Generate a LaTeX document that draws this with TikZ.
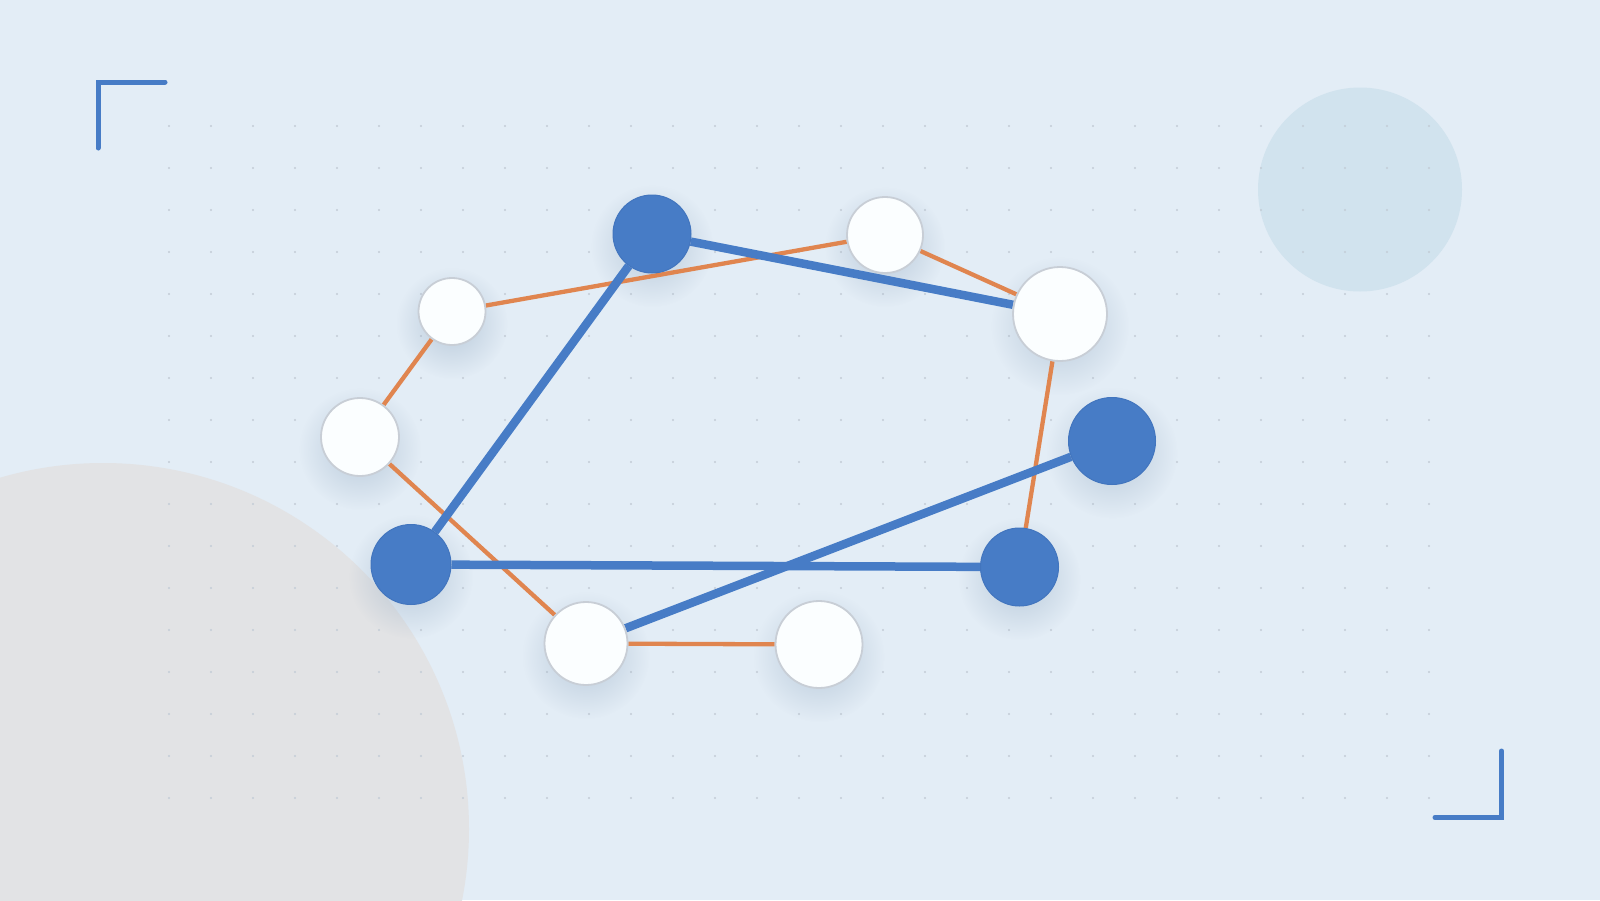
\documentclass[tikz,border=0pt]{standalone}
\usetikzlibrary{fadings}
\definecolor{bgc}{HTML}{E3EDF6}
\definecolor{greyc}{HTML}{E2E3E5}
\definecolor{lbc}{HTML}{D1E3EE}
\definecolor{dotc}{HTML}{C3CCD6}
\definecolor{bluec}{HTML}{477CC6}
\definecolor{blueedge}{HTML}{4275BE}
\definecolor{orangec}{HTML}{E0854F}
\definecolor{whitec}{HTML}{FBFEFF}
\definecolor{wborder}{HTML}{C8CED6}
\definecolor{shadowc}{HTML}{8EA6BE}
\tikzfading[name=softshadow, inner color=transparent!0, outer color=transparent!100]
\pgfdeclarelayer{bglayer}
\pgfdeclarelayer{shadlayer}
\pgfdeclarelayer{edgelayer}
\pgfsetlayers{bglayer,shadlayer,edgelayer,main}
\tikzset{
  wnode/.style={circle, inner sep=0pt, fill=whitec, draw=wborder, line width=1.8pt},
  bnode/.style={circle, inner sep=0pt, fill=bluec, draw=blueedge, line width=1pt},
  oedge/.style={draw=orangec, line width=4.3pt},
  bedge/.style={draw=bluec, line width=8.5pt},
  bracket/.style={draw=bluec, line width=5pt, line cap=round, line join=miter},
  softsh/.style={fill=shadowc, fill opacity=0.5, path fading=softshadow},
}
\begin{document}
\begin{tikzpicture}[x=1pt,y=-1pt]
\useasboundingbox (0,0) rectangle (1600,900);
\begin{pgfonlayer}{bglayer}
\begin{scope}
\clip (0,0) rectangle (1600,900);
\fill[bgc] (0,0) rectangle (1600,900);
\fill[greyc] (103,829) circle[radius=366];
\fill[lbc] (1360,189.5) circle[radius=102];
\foreach \i in {0,...,30}{
  \foreach \j in {0,...,16}{
    \fill[dotc] (169+42*\i,126+42*\j) circle[radius=1.1];
  }
}
\end{scope}
\draw[bracket] (98,148) -- (98,82) -- (165,82);
\draw[bracket] (1435,817.5) -- (1501.5,817.5) -- (1501.5,751);
\end{pgfonlayer}

% nodes
\node[bnode, minimum size=78pt] (bT) at (652,234) {};
\node[wnode, minimum size=76pt] (wT) at (885,235) {};
\node[wnode, minimum size=67pt] (wUL) at (452,311.5) {};
\node[wnode, minimum size=94pt] (wR) at (1060,314) {};
\node[wnode, minimum size=78pt] (wL) at (360,437) {};
\node[bnode, minimum size=87pt] (bR) at (1112,441) {};
\node[bnode, minimum size=80pt] (bL) at (411,564.5) {};
\node[bnode, minimum size=78pt] (bRB) at (1019.5,567) {};
\node[wnode, minimum size=83pt] (wBL) at (586,643.5) {};
\node[wnode, minimum size=87pt] (wBR) at (819,644.5) {};

\begin{pgfonlayer}{shadlayer}
\foreach \n/\r in {bT/39,wT/38,wUL/33.5,wR/47,wL/39,bR/43.5,bL/40,bRB/39,wBL/41.5,wBR/43.5}{
  \fill[softsh] ([yshift=-12pt]\n.center) circle[radius=\r+22];
}
\end{pgfonlayer}

\begin{pgfonlayer}{edgelayer}
\draw[oedge] (wUL) -- (wT);
\draw[oedge] (wT) -- (wR);
\draw[oedge] (wR) -- (bRB);
\draw[oedge] (wUL) -- (wL);
\draw[oedge] (wL) -- (wBL);
\draw[oedge] (wBL) -- (wBR);
\draw[bedge] (bT) -- (wR);
\draw[bedge] (bT) -- (bL);
\draw[bedge] (bL) -- (bRB);
\draw[bedge] (bR) -- (wBL);
\end{pgfonlayer}
\end{tikzpicture}
\end{document}
